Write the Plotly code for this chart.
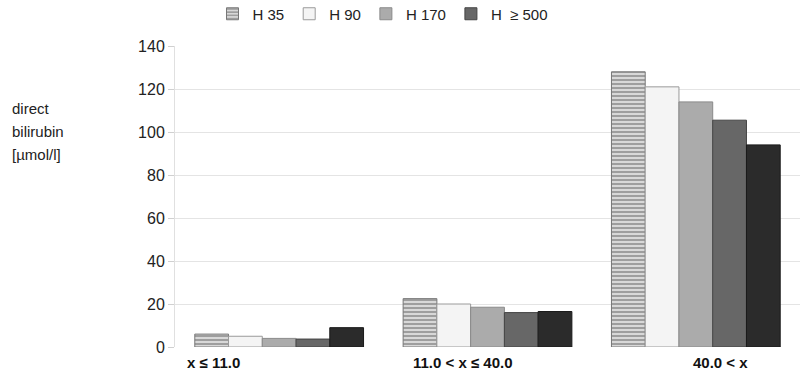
import plotly.graph_objects as go

categories = ["x ≤ 11.0", "11.0 < x ≤ 40.0", "40.0 < x"]
series_names = ["H 35", "H 90", "H 170", "H  ≥ 500", ""]
h35 = [6, 22.5, 128]
h90 = [5, 20, 121]
h170 = [4, 18.5, 114]
h500 = [3.7, 16, 105.5]
h_extra = [9, 16.5, 94]
y_ticks = [0, 20, 40, 60, 80, 100, 120, 140]
y_title_lines = ["direct", "bilirubin", "[µmol/l]"]

values = [h35, h90, h170, h500, h_extra]
fills = ["#c8c8c8", "#f4f4f4", "#ababab", "#676767", "#2b2b2b"]
lines = ["#777777", "#9a9a9a", "#8a8a8a", "#444444", "#1a1a1a"]

W, H = 811, 372
ML, MR, MT, MB = 175, 11, 46, 25
PW, PH = W - ML - MR, H - MT - MB

fig = go.Figure()
for i, (name, vals) in enumerate(zip(series_names, values)):
    marker = dict(color=fills[i], line=dict(color=lines[i], width=1))
    if i == 0:
        marker["pattern"] = dict(shape="-", fgcolor="#555555", bgcolor="#d8d8d8",
                                 size=4, solidity=0.45, fillmode="overlay")
    fig.add_trace(go.Bar(
        x=categories, y=vals, name=name, marker=marker,
        showlegend=(i < 4),
    ))

annotations = []
for k, line in enumerate(y_title_lines):
    ypix = 108 + 23 * k
    annotations.append(dict(
        text=line, xref="paper", yref="paper",
        x=(10 - ML) / PW, y=(H - MB - ypix) / PH, xanchor="left", yanchor="middle",
        showarrow=False, font=dict(size=15, color="#222222")))

label_shift = [-66, -25, 25]
for c, s in zip(categories, label_shift):
    annotations.append(dict(
        text="<b>" + c + "</b>", xref="x", yref="paper", x=c, xshift=s,
        y=-(363 - (H - MB)) / PH, xanchor="center", yanchor="middle",
        showarrow=False, font=dict(size=15, color="#111111")))

fig.update_layout(
    width=W, height=H,
    margin=dict(l=ML, r=MR, t=MT, b=MB, autoexpand=False),
    paper_bgcolor="white", plot_bgcolor="white",
    barmode="group", bargap=0.19, bargroupgap=0.0,
    font=dict(family="Liberation Sans, Arial, sans-serif", size=14, color="#222222"),
    legend=dict(orientation="h", x=0.06, y=1 + (MT - 14) / PH, xanchor="left", yanchor="middle",
                font=dict(size=15, color="#222222"), traceorder="normal",
                itemwidth=30, bgcolor="rgba(0,0,0,0)"),
    xaxis=dict(showgrid=False, showline=False, ticks="", showticklabels=False),
    yaxis=dict(range=[0, 140], tickvals=y_ticks, showgrid=True, gridcolor="#e4e4e4",
               gridwidth=1, zeroline=False, showline=True, linecolor="#e0e0e0",
               ticks="outside", ticklen=6, tickcolor="#d0d0d0",
               tickfont=dict(size=16, color="#222222")),
    annotations=annotations,
)

fig.write_html("out.html")
